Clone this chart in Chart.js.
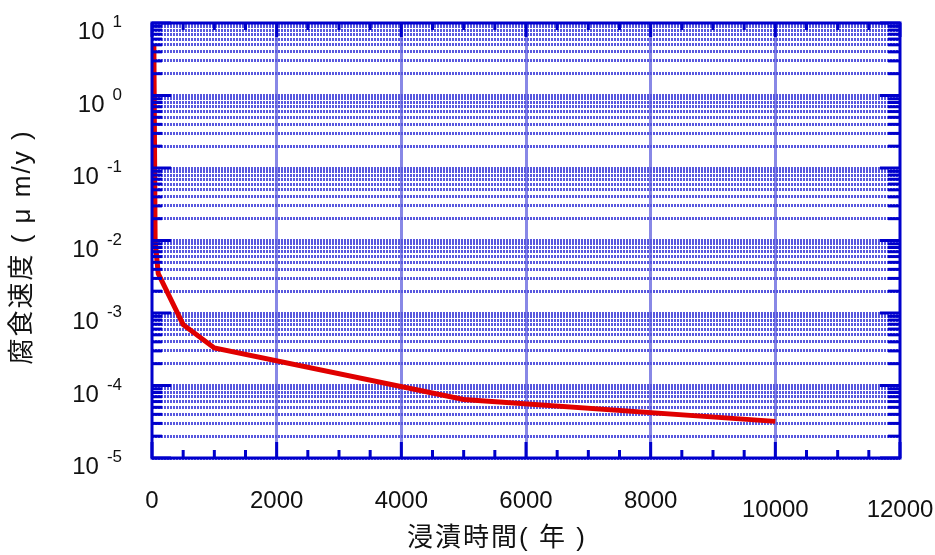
<!DOCTYPE html>
<html>
<head>
<meta charset="utf-8">
<script src="https://cdn.jsdelivr.net/npm/chart.js@4/dist/chart.umd.min.js"></script>
<style>
  html, body { margin: 0; padding: 0; background: #fff; }
  #wrap { width: 935px; height: 555px; }
</style>
</head>
<body>
<div id="wrap"><canvas id="rateChart" width="935" height="555"></canvas></div>
<script>
// corrosion rate vs. immersion time
const years = [30, 50, 100, 500, 1000, 5000, 10000];
const rates = [5, 1.0e-2, 3.5e-3, 6.9e-4, 3.3e-4, 6.4e-5, 3.2e-5];

const xTicks = [0, 2000, 4000, 6000, 8000, 10000, 12000];
const xMinorStep = 500;
const yExponents = [-5, -4, -3, -2, -1, 0, 1];
const xTitle = "浸漬時間( 年 )";
const yTitle = "腐食速度 ( μ m/y )";

// every 1..9 x 10^n inside the decades, plus the top decade
const yGridValues = [];
yExponents.slice(0, -1).forEach(e => {
    for (let s = 1; s <= 9; s++) yGridValues.push(Number((s * Math.pow(10, e)).toPrecision(3)));
});
yGridValues.push(Math.pow(10, yExponents[yExponents.length - 1]));

const frameBlue = "#0000cc";
const hGridBlue = "rgb(88, 88, 222)";
const vGridBlue = "#8888e6";
const textColor = "#111";
const latinFont = "'Liberation Sans', Arial, 'Noto Sans CJK JP', sans-serif";

const isPow10 = v => Math.abs(Math.log10(v) - Math.round(Math.log10(v))) < 1e-9;

const axisFrame = {
    id: "axisFrame",
    afterDatasetsDraw(chart) {
        const { ctx, chartArea: a, scales: { x, y } } = chart;
        const line = (x1, y1, x2, y2) => {
            ctx.beginPath();
            ctx.moveTo(x1, y1);
            ctx.lineTo(x2, y2);
            ctx.stroke();
        };
        ctx.save();
        ctx.strokeStyle = frameBlue;
        ctx.lineWidth = 3;
        ctx.strokeRect(a.left, a.top, a.right - a.left, a.bottom - a.top);

        // inward ticks along top and bottom
        for (let v = x.min; v <= x.max; v += xMinorStep) {
            const px = x.getPixelForValue(v);
            const major = xTicks.includes(v);
            line(px, a.bottom, px, a.bottom - (major ? 16 : 8));
            line(px, a.top, px, a.top + (major ? 14 : 7));
        }
        // inward ticks along left and right
        yGridValues.forEach(v => {
            const py = y.getPixelForValue(v);
            const major = isPow10(v);
            line(a.left, py, a.left + (major ? 19 : 10), py);
            line(a.right, py, a.right - (major ? 20 : 12), py);
        });
        ctx.restore();
    },
    afterDraw(chart) {
        const { ctx, chartArea: a, scales: { x, y } } = chart;
        ctx.save();
        ctx.fillStyle = textColor;

        // y labels as 10 with a raised exponent
        yExponents.forEach(e => {
            const py = y.getPixelForValue(Math.pow(10, e));
            const exp = String(e);
            ctx.textAlign = "right";
            ctx.textBaseline = "alphabetic";
            ctx.font = "17px " + latinFont;
            ctx.fillText(exp, 122, py + 4);
            const w = ctx.measureText(exp).width;
            ctx.font = "24px " + latinFont;
            ctx.fillText("10", 122 - w - 8, py + 16);
        });

        // x labels
        ctx.font = "24px " + latinFont;
        ctx.textAlign = "center";
        xTicks.forEach(v => {
            const drop = v >= 10000 ? 9 : 0;
            ctx.fillText(String(v), x.getPixelForValue(v), a.bottom + 50 + drop);
        });

        // axis titles
        ctx.font = "26px " + latinFont;
        ctx.letterSpacing = "2px";
        ctx.textBaseline = "middle";
        ctx.fillText(xTitle, 497, 539);
        ctx.translate(23, 247);
        ctx.rotate(-Math.PI / 2);
        ctx.fillText(yTitle, 0, 0);
        ctx.restore();
    }
};

const ctx = document.getElementById("rateChart").getContext("2d");
new Chart(ctx, {
    type: "line",
    data: {
        datasets: [{
            data: years.map((t, i) => ({ x: t, y: rates[i] })),
            borderColor: "#e00000",
            borderWidth: 5,
            pointRadius: 0,
            tension: 0,
            fill: false
        }]
    },
    options: {
        responsive: false,
        animation: false,
        layout: { padding: { top: 23, right: 35, left: 0, bottom: 0 } },
        plugins: {
            legend: { display: false },
            tooltip: { enabled: false }
        },
        scales: {
            x: {
                type: "linear",
                min: 0,
                max: 12000,
                afterBuildTicks: s => { s.ticks = xTicks.map(v => ({ value: v })); },
                afterFit: s => { s.height = 97; },
                ticks: { display: false },
                border: { display: false },
                grid: {
                    drawTicks: false,
                    lineWidth: 3,
                    color: c => (c.tick && c.tick.value > 0 && c.tick.value < 12000) ? vGridBlue : "rgba(0,0,0,0)"
                }
            },
            y: {
                type: "logarithmic",
                min: 1e-5,
                max: 10,
                afterBuildTicks: s => { s.ticks = yGridValues.map(v => ({ value: v })); },
                afterFit: s => { s.width = 152; },
                ticks: { display: false },
                border: { display: false, dash: [2, 1] },
                grid: { drawTicks: false, lineWidth: 3, color: hGridBlue }
            }
        }
    },
    plugins: [axisFrame]
});
</script>
</body>
</html>
